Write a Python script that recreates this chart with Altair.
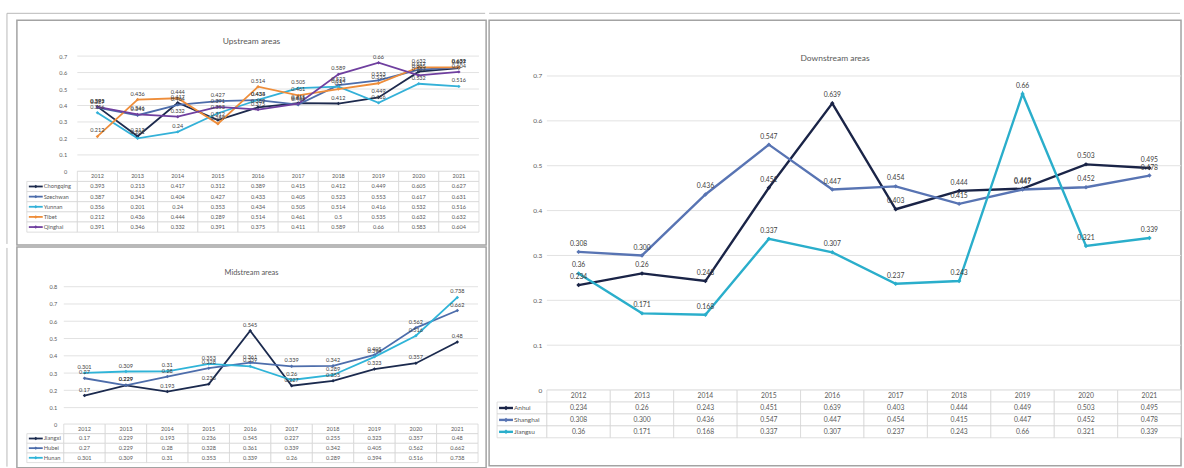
import altair as alt
import pandas as pd

FONT = "Lato"
TXT = "#595959"

YEARS = [2012, 2013, 2014, 2015, 2016, 2017, 2018, 2019, 2020, 2021]

# ---------------- Upstream ----------------
up_names = ["Chongqing", "Szechwan", "Yunnan", "Tibet", "Qinghai"]
chongqing = [0.393, 0.213, 0.417, 0.312, 0.389, 0.415, 0.412, 0.449, 0.605, 0.627]
szechwan = [0.387, 0.341, 0.404, 0.427, 0.433, 0.405, 0.523, 0.553, 0.617, 0.631]
yunnan = [0.356, 0.201, 0.24, 0.353, 0.434, 0.505, 0.514, 0.416, 0.532, 0.516]
tibet = [0.212, 0.436, 0.444, 0.289, 0.514, 0.461, 0.5, 0.535, 0.632, 0.632]
qinghai = [0.391, 0.346, 0.332, 0.391, 0.375, 0.411, 0.589, 0.66, 0.583, 0.604]
up_colors = ["#1d2a4d", "#4d6dab", "#34b1d8", "#ee8d3a", "#6f3f9f"]
up_ticks = [0, 0.1, 0.2, 0.3, 0.4, 0.5, 0.6, 0.7]

# ---------------- Midstream ----------------
mid_names = ["Jiangxi", "Hubei", "Hunan"]
jiangxi = [0.17, 0.229, 0.193, 0.236, 0.545, 0.227, 0.255, 0.323, 0.357, 0.48]
hubei = [0.27, 0.229, 0.28, 0.328, 0.361, 0.339, 0.342, 0.405, 0.562, 0.662]
hunan = [0.301, 0.309, 0.31, 0.353, 0.339, 0.26, 0.289, 0.394, 0.516, 0.738]
mid_colors = ["#1b2a4e", "#4d6dab", "#2fb4d8"]
mid_ticks = [0, 0.1, 0.2, 0.3, 0.4, 0.5, 0.6, 0.7, 0.8]

# ---------------- Downstream ----------------
down_names = ["Anhui", "Shanghai", "Jiangsu"]
anhui = [0.234, 0.26, 0.243, 0.451, 0.639, 0.403, 0.444, 0.449, 0.503, 0.495]
shanghai = [0.308, 0.300, 0.436, 0.547, 0.447, 0.454, 0.415, 0.447, 0.452, 0.478]
jiangsu = [0.26, 0.171, 0.168, 0.337, 0.307, 0.237, 0.243, 0.66, 0.321, 0.339]
anhui_labels = ["0.234", "0.26", "0.243", "0.451", "0.639", "0.403", "0.444", "0.449", "0.503", "0.495"]
shanghai_labels = ["0.308", "0.300", "0.436", "0.547", "0.447", "0.454", "0.415", "0.447", "0.452", "0.478"]
jiangsu_labels = ["0.36", "0.171", "0.168", "0.337", "0.307", "0.237", "0.243", "0.66", "0.321", "0.339"]
down_colors = ["#1a2447", "#5874b3", "#2aaecb"]
down_ticks = [0, 0.1, 0.2, 0.3, 0.4, 0.5, 0.6, 0.7]

FRAME = "#b8b8b8"
FRAME_GAP_X = 10
FRAME_GAP_Y = 7


def fmt(v):
    return f"{v:g}"


def make_panel(title, names, series, labels, colors, ticks, g, frame_left, frame_top):
    N = len(YEARS)
    px2i = lambda px: (px - g["x0"]) / g["band"]
    py2v = lambda py: (g["y0"] - py) / g["k"]
    xs = alt.Scale(domain=[px2i(0), px2i(g["W"])], nice=False, zero=False)
    ys = alt.Scale(domain=[py2v(g["H"]), py2v(0)], nice=False, zero=False)
    cs = alt.Scale(domain=names, range=colors)
    fs = g["fs"]
    yax = alt.Axis(values=ticks, format="~g", offset=-g["axr"], labelPadding=0, tickSize=0,
                   ticks=False, domain=False, grid=False, labelFontSize=g["afs"],
                   labelColor=TXT, labelFont=FONT, title=None)

    def X(f):
        return alt.X(f, scale=xs, axis=None)

    def Y(f):
        return alt.Y(f, scale=ys, axis=yax)

    grid_df = pd.DataFrame({"tick": ticks, "x1": -0.5, "x2": N - 0.5})
    grid = alt.Chart(grid_df).mark_rule(color="#e2e2e2", strokeWidth=1).encode(
        x=X("x1:Q"), x2="x2:Q", y=Y("tick:Q"))

    rh = g["rh"]
    cells, texts, leg = [], [], []
    hc = g["hdr"]
    for i, yr in enumerate(YEARS):
        cells.append(dict(x1=i - 0.5, x2=i + 0.5, y1=py2v(hc - rh / 2), y2=py2v(hc + rh / 2)))
        texts.append(dict(x=i, y=py2v(hc), t=str(yr)))
    for r, nm in enumerate(names, start=1):
        c = hc + r * rh
        cells.append(dict(x1=px2i(g["nl"]), x2=-0.5, y1=py2v(c - rh / 2), y2=py2v(c + rh / 2)))
        for i in range(N):
            cells.append(dict(x1=i - 0.5, x2=i + 0.5, y1=py2v(c - rh / 2), y2=py2v(c + rh / 2)))
            texts.append(dict(x=i, y=py2v(c), t=labels[r - 1][i]))
        xa = px2i(g["nl"] + 2)
        xb = px2i(g["nl"] + g["sw"])
        leg.append(dict(name=nm, xa=xa, xb=xb, xm=(xa + xb) / 2, xt=px2i(g["nl"] + g["sw"] + 1), y=py2v(c)))
    cell_ch = alt.Chart(pd.DataFrame(cells)).mark_rect(fill="white", stroke="#d6d6d6", strokeWidth=0.8).encode(
        x=X("x1:Q"), x2="x2:Q", y=Y("y1:Q"), y2="y2:Q")
    text_ch = alt.Chart(pd.DataFrame(texts)).mark_text(fontSize=fs, color=TXT, font=FONT).encode(
        x=X("x:Q"), y=Y("y:Q"), text="t:N")
    leg_df = pd.DataFrame(leg)
    sw = alt.Chart(leg_df).mark_rule(strokeWidth=g["lw"]).encode(
        x=X("xa:Q"), x2="xb:Q", y=Y("y:Q"),
        color=alt.Color("name:N", scale=cs, legend=None))
    swp = alt.Chart(leg_df).mark_point(filled=True, shape="diamond", size=g["ms"], opacity=1).encode(
        x=X("xm:Q"), y=Y("y:Q"),
        color=alt.Color("name:N", scale=cs, legend=None))
    nm_t = alt.Chart(leg_df).mark_text(fontSize=g["nfs"], color=TXT, font=FONT, align="left").encode(
        x=X("xt:Q"), y=Y("y:Q"), text="name:N")

    rows = []
    for nm, vals, labs in zip(names, series, labels):
        for i, (v, lb) in enumerate(zip(vals, labs)):
            rows.append(dict(name=nm, i=i, value=v, label=lb))
    ldf = pd.DataFrame(rows)
    base = alt.Chart(ldf).encode(
        x=X("i:Q"), y=Y("value:Q"),
        color=alt.Color("name:N", scale=cs, legend=None),
    )
    lines = base.mark_line(strokeWidth=g["lw"]).encode(order="i:Q")
    pts = base.mark_point(filled=True, shape="diamond", size=g["ms"], opacity=1)
    labs_ch = alt.Chart(ldf).mark_text(dy=-g["dy"], fontSize=fs, color="#404040", font=FONT).encode(
        x=X("i:Q"), y=Y("value:Q"), text="label:N")

    layers = [grid, cell_ch, text_ch, sw, swp, nm_t, lines, pts, labs_ch]
    # outer frame of the whole figure (decoration)
    if frame_top:
        layers.append(alt.Chart(grid_df.head(1)).mark_rule(color=FRAME, strokeWidth=1).encode(
            x=alt.value(-FRAME_GAP_X if frame_left else 0), x2=alt.value(g["W"] - 1), y=alt.value(-FRAME_GAP_Y)))
    if frame_left:
        layers.append(alt.Chart(grid_df.head(1)).mark_rule(color=FRAME, strokeWidth=1).encode(
            x=alt.value(-FRAME_GAP_X), y=alt.value(-FRAME_GAP_Y if frame_top else 1), y2=alt.value(g["H"] - 1)))

    extra = FRAME_GAP_Y if frame_top else 0
    return alt.layer(*layers).properties(
        width=g["W"], height=g["H"],
        title=alt.TitleParams(title, offset=-(g["ty"] + extra + 0.35 * g["tfs"]), fontSize=g["tfs"], color=TXT,
                              font=FONT, fontWeight="normal", anchor="middle"),
    )


up_geo = dict(W=472, H=226, x0=81, band=40.4, y0=152, k=165.7, axr=50, ty=23, tfs=8.5,
              hdr=157, rh=10.2, nl=10, sw=16, fs=5.6, nfs=5.8, afs=5.6, lw=1.8, ms=12, dy=6)
mid_geo = dict(W=472, H=222, x0=68, band=41.67, y0=179, k=173.75, axr=40, ty=27, tfs=7.5,
               hdr=183, rh=9.7, nl=10, sw=16, fs=5.6, nfs=5.8, afs=5.6, lw=1.8, ms=12, dy=6)
down_geo = dict(W=696, H=448, x0=90, band=63.8, y0=372, k=451.4, axr=53, ty=40, tfs=8.5,
                hdr=378, rh=12, nl=8, sw=16, fs=6.8, nfs=6.5, afs=6.5, lw=2.4, ms=20, dy=8)

up = make_panel("Upstream areas", up_names,
                [chongqing, szechwan, yunnan, tibet, qinghai],
                [[fmt(v) for v in s] for s in [chongqing, szechwan, yunnan, tibet, qinghai]],
                up_colors, up_ticks, up_geo, True, True)
mid = make_panel("Midstream areas", mid_names, [jiangxi, hubei, hunan],
                 [[fmt(v) for v in s] for s in [jiangxi, hubei, hunan]],
                 mid_colors, mid_ticks, mid_geo, True, False)
down = make_panel("Downstream areas", down_names, [anhui, shanghai, jiangsu],
                  [anhui_labels, shanghai_labels, jiangsu_labels],
                  down_colors, down_ticks, down_geo, False, True)

left = alt.vconcat(up, mid, spacing=0).resolve_scale(x="independent", y="independent", color="independent")
chart = alt.hconcat(left, down, spacing=0).resolve_scale(
    x="independent", y="independent", color="independent"
).properties(
    padding={"left": 5, "top": 10, "right": 1, "bottom": 3},
    background="white",
).configure_view(stroke="#a3a3a3", strokeWidth=1.5)

chart.save("out.html", embed_options={"renderer": "svg", "actions": False})
